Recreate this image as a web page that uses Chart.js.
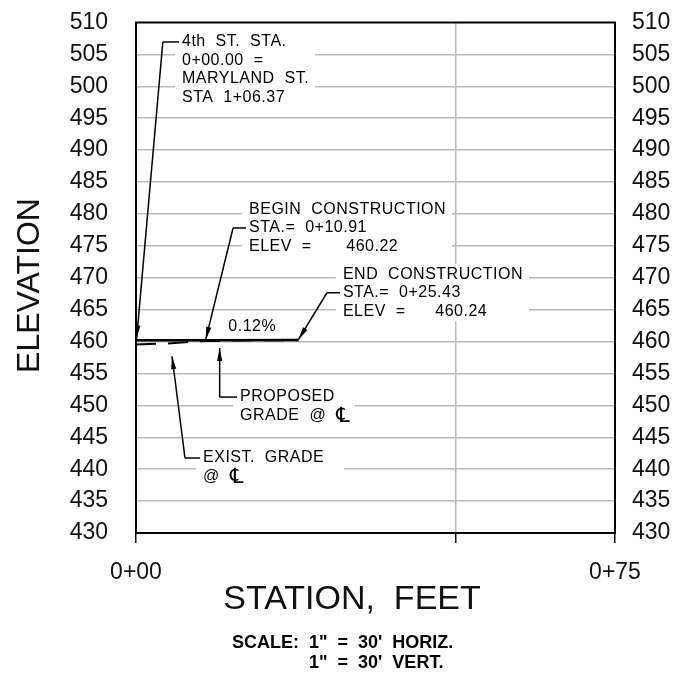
<!DOCTYPE html>
<html>
<head>
<meta charset="utf-8">
<script src="https://cdn.jsdelivr.net/npm/chart.js@4.4.0/dist/chart.umd.min.js"></script>
<style>
  html, body { margin: 0; padding: 0; background: #fff; }
  #wrap { width: 687px; height: 677px; }
</style>
</head>
<body>
<div id="wrap"><canvas id="profile_chart" width="687" height="677"></canvas></div>
<script>
// profile: station (ft) vs elevation (ft)

const X_TICKS = [ 0, 50, 75 ];
const X_TICK_LABELS = { 0: '0+00', 75: '0+75' };
const Y_MIN = 430;
const Y_MAX = 510;
const Y_STEP = 5;

const PROPOSED_STA = [ 0, 10.91, 25.43 ];
const PROPOSED_ELEV = [ 460.21, 460.22, 460.24 ];

const EXIST_STA = [ 0, 5, 10.91, 18, 25.43 ];
const EXIST_ELEV = [ 459.55, 459.7, 460.1, 460.2, 460.22 ];

// callouts, anchored in station / elevation units
const CALLOUTS = [
  { lines: [ '4th  ST.  STA.', '0+00.00  =', 'MARYLAND  ST.', 'STA  1+06.37' ],
    sta: 7.2, elev: 506.95, hook_line: 0, hook_sta: 4.2, tip: [ 0.1, 460.5 ], pad_r: 6 },
  { lines: [ 'BEGIN  CONSTRUCTION', 'STA.=  0+10.91', 'ELEV  =       460.22' ],
    sta: 17.7, elev: 480.7, hook_line: 1, hook_sta: 15.2, tip: [ 10.91, 460.3 ], pad_r: 6 },
  { lines: [ 'END  CONSTRUCTION', 'STA.=  0+25.43', 'ELEV  =      460.24' ],
    sta: 32.4, elev: 470.55, hook_line: 1, hook_sta: 29.9, tip: [ 25.43, 460.3 ], pad_r: 6 },
  { lines: [ 'PROPOSED', 'GRADE  @  \u2104' ],
    sta: 16.3, elev: 451.3, hook_line: 0, hook_sta: 13.1, tip: [ 13.1, 459.0 ], pad_r: 8 },
  { lines: [ 'EXIST.  GRADE', '@  \u2104' ],
    sta: 10.5, elev: 441.75, hook_line: 0, hook_sta: 7.67, tip: [ 5.64, 457.7 ], pad_r: 20 }
];
const SLOPE_LABEL = { text: '0.12%', sta: 18.2, elev: 462.4 };

const X_TITLE = 'STATION,  FEET';
const Y_TITLE = 'ELEVATION';
const SCALE_HEAD = 'SCALE:  ';
const SCALE_LINES = [ '1"  =  30\'  HORIZ.', '1"  =  30\'  VERT.' ];

const FONT = '"Liberation Sans", "DejaVu Sans", Arial, sans-serif';
const GRID = '#b9b9b9';
const INK = '#000';
const CLEAR = 'rgba(0,0,0,0)';
const LINE_H = 18.5;
const CL = '\u2104';

function to_points( xs, ys ) {
  return xs.map( ( x, i ) => ( { x: x, y: ys[ i ] } ) );
}

function draw_arrow( ctx, x0, y0, x1, y1 ) {
  ctx.beginPath();
  ctx.moveTo( x0, y0 );
  ctx.lineTo( x1, y1 );
  ctx.stroke();
  const ang = Math.atan2( y1 - y0, x1 - x0 );
  const c = Math.cos( ang ), s = Math.sin( ang );
  const len = 13, half = 2.6;
  ctx.beginPath();
  ctx.moveTo( x1, y1 );
  ctx.lineTo( x1 - len * c + half * s, y1 - len * s - half * c );
  ctx.lineTo( x1 - len * c - half * s, y1 - len * s + half * c );
  ctx.closePath();
  ctx.fill();
}

function set_note_font( ctx ) {
  ctx.font = '16px ' + FONT;
  ctx.letterSpacing = '0.5px';
  ctx.textBaseline = 'middle';
  ctx.textAlign = 'left';
}

// centre-line symbol drawn a bit larger than the rest of the line
function draw_note_line( ctx, text, x, y ) {
  const k = text.indexOf( CL );
  if ( k < 0 ) {
    ctx.fillText( text, x, y );
    return;
  }
  const head = text.slice( 0, k );
  ctx.fillText( head, x, y );
  const x1 = x + ctx.measureText( head ).width;
  ctx.save();
  ctx.font = '21px "DejaVu Sans", sans-serif';
  ctx.fillText( CL, x1, y + 1 );
  ctx.restore();
}

function callout_box( chart, note ) {
  const xs = chart.scales.x, ys = chart.scales.y;
  const ctx = chart.ctx;
  const left = xs.getPixelForValue( note.sta );
  const top = ys.getPixelForValue( note.elev );
  let w = 0;
  note.lines.forEach( t => { w = Math.max( w, ctx.measureText( t ).width ); } );
  return { left: left, top: top, w: w, last: top + ( note.lines.length - 1 ) * LINE_H };
}

const profile_plugin = {
  id: 'profile_plugin',
  beforeDatasetsDraw( chart ) {
    const ctx = chart.ctx;
    ctx.save();
    set_note_font( ctx );
    ctx.fillStyle = '#fff';
    CALLOUTS.forEach( note => {
      const b = callout_box( chart, note );
      ctx.fillRect( b.left - 7, b.top - 10, b.w + 7 + note.pad_r, b.last - b.top + 20 );
    } );
    ctx.restore();
  },
  afterDatasetsDraw( chart ) {
    const ctx = chart.ctx;
    const xs = chart.scales.x, ys = chart.scales.y;
    const area = chart.chartArea;
    ctx.save();
    set_note_font( ctx );
    ctx.fillStyle = INK;
    ctx.strokeStyle = INK;
    ctx.lineWidth = 1.5;
    CALLOUTS.forEach( note => {
      const b = callout_box( chart, note );
      note.lines.forEach( ( t, i ) => draw_note_line( ctx, t, b.left, b.top + i * LINE_H ) );
      const hy = b.top + note.hook_line * LINE_H;
      const hx = xs.getPixelForValue( note.hook_sta );
      ctx.beginPath();
      ctx.moveTo( b.left - 3, hy );
      ctx.lineTo( hx, hy );
      ctx.stroke();
      draw_arrow( ctx, hx, hy, xs.getPixelForValue( note.tip[ 0 ] ), ys.getPixelForValue( note.tip[ 1 ] ) );
    } );

    ctx.textAlign = 'center';
    ctx.fillText( SLOPE_LABEL.text, xs.getPixelForValue( SLOPE_LABEL.sta ), ys.getPixelForValue( SLOPE_LABEL.elev ) );

    // plot frame
    ctx.lineWidth = 2;
    ctx.strokeRect( area.left, area.top, area.right - area.left, area.bottom - area.top );
    ctx.restore();
  },
  afterDraw( chart ) {
    const ctx = chart.ctx;
    ctx.save();
    ctx.fillStyle = '#111';
    ctx.textBaseline = 'middle';
    ctx.textAlign = 'center';

    ctx.font = '34px ' + FONT;
    ctx.fillText( X_TITLE, 352, 600 );

    ctx.save();
    ctx.translate( 30, 285.5 );
    ctx.rotate( -Math.PI / 2 );
    ctx.font = '32px ' + FONT;
    ctx.fillText( Y_TITLE, 0, 0 );
    ctx.restore();

    ctx.fillStyle = INK;
    ctx.font = 'bold 18px ' + FONT;
    ctx.textAlign = 'left';
    const x0 = 232;
    ctx.fillText( SCALE_HEAD + SCALE_LINES[ 0 ], x0, 643.5 );
    ctx.fillText( SCALE_LINES[ 1 ], x0 + ctx.measureText( SCALE_HEAD ).width, 663.5 );
    ctx.restore();
  }
};

const tick_font = { family: FONT, size: 23 };

// label gap is made from an invisible tick mark + small padding,
// so the tick padding does not push the plot top down
function y_axis( side ) {
  const left = side == 'left';
  return {
    type: 'linear',
    position: side,
    min: Y_MIN,
    max: Y_MAX,
    afterFit: s => { s.width = left ? 136 : 72; },
    border: { display: false },
    grid: {
      drawOnChartArea: left,
      drawTicks: true,
      tickLength: left ? 20 : 9,
      tickColor: CLEAR,
      lineWidth: 1.5,
      color: c => ( !left || ( c.tick && ( c.tick.value == Y_MIN || c.tick.value == Y_MAX ) ) ) ? CLEAR : GRID
    },
    ticks: { stepSize: Y_STEP, padding: 8, color: '#111', font: tick_font }
  };
}

document.addEventListener( "DOMContentLoaded", function () {
  const ctx = document.getElementById( 'profile_chart' ).getContext( '2d' );
  new Chart( ctx, {
    type: 'line',
    data: {
      datasets: [ {
        label: 'PROPOSED GRADE',
        data: to_points( PROPOSED_STA, PROPOSED_ELEV ),
        borderColor: INK,
        borderWidth: 2.5,
        pointRadius: 0,
        tension: 0
      }, {
        label: 'EXIST. GRADE',
        data: to_points( EXIST_STA, EXIST_ELEV ),
        borderColor: INK,
        borderWidth: 2,
        borderDash: [ 20, 12 ],
        pointRadius: 0,
        tension: 0
      } ]
    },
    options: {
      responsive: false,
      animation: false,
      layout: { padding: { top: 22.5, left: 0, right: 0, bottom: 0 } },
      plugins: { legend: { display: false }, tooltip: { enabled: false } },
      scales: {
        x: {
          type: 'linear',
          min: 0,
          max: 75,
          afterBuildTicks: s => { s.ticks = X_TICKS.map( v => ( { value: v } ) ); },
          afterFit: s => { s.height = 144; },
          border: { display: false },
          grid: {
            lineWidth: 1.5,
            color: c => ( c.tick && c.tick.value == 50 ) ? GRID : CLEAR,
            tickColor: INK,
            tickWidth: 1.5,
            tickLength: 10
          },
          ticks: {
            autoSkip: false,
            maxRotation: 0,
            padding: 16,
            color: '#111',
            font: tick_font,
            callback: v => X_TICK_LABELS[ v ] || ''
          }
        },
        y: y_axis( 'left' ),
        y2: y_axis( 'right' )
      }
    },
    plugins: [ profile_plugin ]
  } );
} );
</script>
</body>
</html>
